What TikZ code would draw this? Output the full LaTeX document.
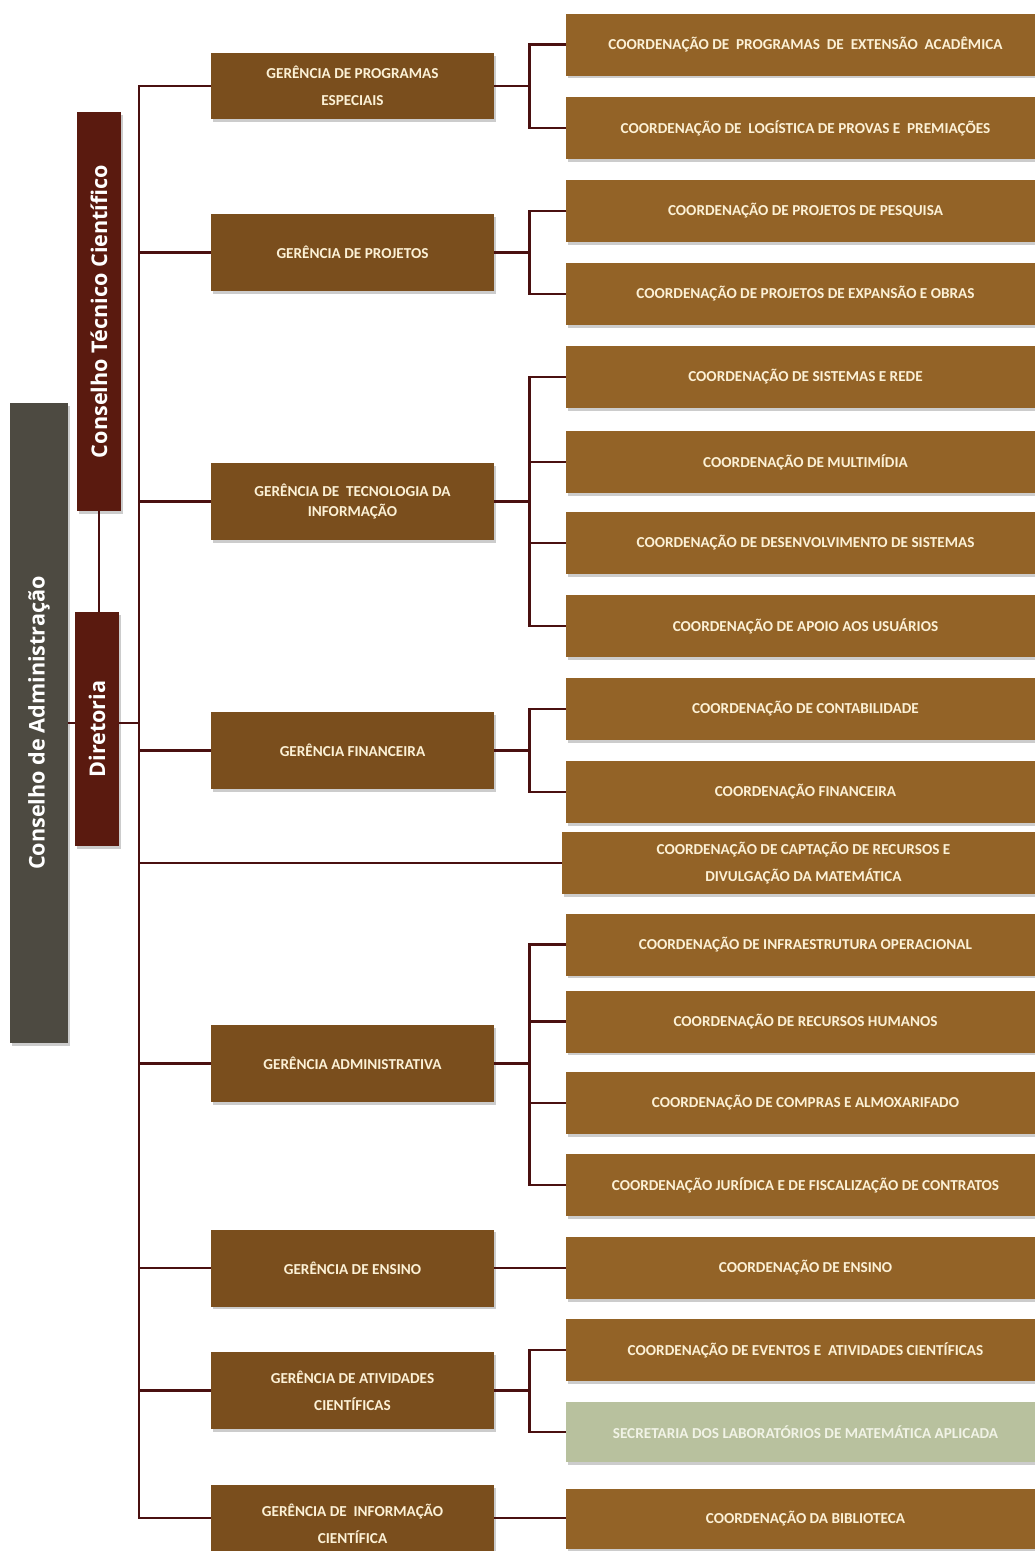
\documentclass[tikz,border=0pt]{standalone}
\usepackage{fontspec}
\setmainfont{Carlito}
\newfontfamily\sidefont{Open Sans}
\usepackage{xcolor}
\usepackage{tikz}
\usetikzlibrary{positioning}
\usetikzlibrary{shadows}

\definecolor{gerbrown}{HTML}{7A4E1D}
\definecolor{coordbrown}{HTML}{936327}
\definecolor{cream}{HTML}{FCF1D6}
\definecolor{sage}{HTML}{B8C19E}
\definecolor{sagetext}{HTML}{F1F3E6}
\definecolor{slate}{HTML}{4D4A41}
\definecolor{wine}{HTML}{5A1A0F}
\definecolor{linecol}{HTML}{4A1010}

\begin{document}
\begin{tikzpicture}[x=1pt,y=-1pt,
    box/.style={rectangle,inner sep=0pt,align=center,text=cream,
        font=\bfseries\fontsize{15.2}{27}\selectfont,
        drop shadow={shadow xshift=1.5pt,shadow yshift=-2.5pt,opacity=0.4}},
    ger/.style={box,fill=gerbrown,minimum width=283pt,minimum height=77pt},
    coord/.style={box,fill=coordbrown,minimum width=479pt,minimum height=62pt},
    side/.style={rectangle,rotate=90,inner sep=0pt,text=white,
        font=\sidefont\bfseries\fontsize{21.6}{24}\selectfont,
        drop shadow={shadow xshift=1.5pt,shadow yshift=-2.5pt,opacity=0.4}},
    conn/.style={draw=linecol,line width=2.8pt}]

\useasboundingbox[fill=white] (0,0) rectangle (1035,1551);

% conselhos e diretoria
\node[side,fill=slate,minimum width=640pt,minimum height=58pt] (cadm) at (39,723) {Conselho de Administração};
\node[side,fill=wine,minimum width=399pt,minimum height=44pt] (ctc) at (99,311.5) {Conselho Técnico Científico};
\node[side,fill=wine,minimum width=234pt,minimum height=44pt] (dir) at (97,729) {Diretoria};

% gerencias
\node[ger,minimum height=66pt] (g1) at (352.5,86) {GERÊNCIA DE PROGRAMAS\\ESPECIAIS};
\node[ger] (g2) at (352.5,252.5) {GERÊNCIA DE PROJETOS};
\node[ger,font=\bfseries\fontsize{15.2}{20}\selectfont] (g3) at (352.5,501.5) {GERÊNCIA DE \ TECNOLOGIA DA\\INFORMAÇÃO};
\node[ger] (g4) at (352.5,750.5) {GERÊNCIA FINANCEIRA};
\node[ger] (g5) at (352.5,1063.5) {GERÊNCIA ADMINISTRATIVA};
\node[ger] (g6) at (352.5,1268) {GERÊNCIA DE ENSINO};
\node[ger] (g7) at (352.5,1390.5) {GERÊNCIA DE ATIVIDADES\\CIENTÍFICAS};
\node[ger] (g8) at (352.5,1523.5) {GERÊNCIA DE \ INFORMAÇÃO\\CIENTÍFICA};

% coordenacoes
\node[coord] (c1) at (805.5,44.5) {COORDENAÇÃO DE \ PROGRAMAS \ DE \ EXTENSÃO \ ACADÊMICA};
\node[coord] (c2) at (805.5,128) {COORDENAÇÃO DE \ LOGÍSTICA DE PROVAS E \ PREMIAÇÕES};
\node[coord] (c3) at (805.5,211) {COORDENAÇÃO DE PROJETOS DE PESQUISA};
\node[coord] (c4) at (805.5,294) {COORDENAÇÃO DE PROJETOS DE EXPANSÃO E OBRAS};
\node[coord] (c5) at (805.5,377) {COORDENAÇÃO DE SISTEMAS E REDE};
\node[coord] (c6) at (805.5,462) {COORDENAÇÃO DE MULTIMÍDIA};
\node[coord] (c7) at (805.5,543) {COORDENAÇÃO DE DESENVOLVIMENTO DE SISTEMAS};
\node[coord] (c8) at (805.5,626) {COORDENAÇÃO DE APOIO AOS USUÁRIOS};
\node[coord] (c9) at (805.5,709) {COORDENAÇÃO DE CONTABILIDADE};
\node[coord] (c10) at (805.5,792) {COORDENAÇÃO FINANCEIRA};
\node[coord,minimum width=483pt] (c11) at (803.5,863) {COORDENAÇÃO DE CAPTAÇÃO DE RECURSOS E\\DIVULGAÇÃO DA MATEMÁTICA};
\node[coord] (c12) at (805.5,944.5) {COORDENAÇÃO DE INFRAESTRUTURA OPERACIONAL};
\node[coord] (c13) at (805.5,1021.5) {COORDENAÇÃO DE RECURSOS HUMANOS};
\node[coord] (c14) at (805.5,1103) {COORDENAÇÃO DE COMPRAS E ALMOXARIFADO};
\node[coord] (c15) at (805.5,1185) {COORDENAÇÃO JURÍDICA E DE FISCALIZAÇÃO DE CONTRATOS};
\node[coord] (c16) at (805.5,1268) {COORDENAÇÃO DE ENSINO};
\node[coord] (c17) at (805.5,1350) {COORDENAÇÃO DE EVENTOS E \ ATIVIDADES CIENTÍFICAS};
\node[coord,fill=sage,text=sagetext,minimum height=60pt] (c18) at (805.5,1432) {SECRETARIA DOS LABORATÓRIOS DE MATEMÁTICA APLICADA};
\node[coord,minimum height=60pt] (c19) at (805.5,1519) {COORDENAÇÃO DA BIBLIOTECA};

% tronco principal
\coordinate (top) at (139,86);
\coordinate (bot) at (139,1518);
\draw[conn] (g1.west) -- (top) -- (bot) -- (g8.west |- bot);
\draw[conn] (g2.west) -- (g2.west -| top);
\draw[conn] (g3.west) -- (g3.west -| top);
\draw[conn] (g4.west) -- (g4.west -| top);
\draw[conn] (g5.west) -- (g5.west -| top);
\draw[conn] (g6.west) -- (g6.west -| top);
\draw[conn] (g7.west) -- (g7.west -| top);
\draw[conn] (c11.west) -- (c11.west -| top);

% conselhos -- diretoria
\draw[conn] (ctc.west) -- (ctc.west |- dir.east);
\draw[conn] (cadm.south) -- (cadm.south -| dir.north);
\draw[conn] (cadm.south -| dir.south) -- (cadm.south -| top);

% gerencias -- coordenacoes
\draw[conn] (g1.east) -- ++(35,0) coordinate (b1) |- (c1.west);
\draw[conn] (b1) |- (c2.west);
\draw[conn] (g2.east) -- ++(35,0) coordinate (b2) |- (c3.west);
\draw[conn] (b2) |- (c4.west);
\draw[conn] (g3.east) -- ++(35,0) coordinate (b3) |- (c5.west);
\draw[conn] (b3) |- (c6.west);
\draw[conn] (b3) |- (c7.west);
\draw[conn] (b3) |- (c8.west);
\draw[conn] (g4.east) -- ++(35,0) coordinate (b4) |- (c9.west);
\draw[conn] (b4) |- (c10.west);
\draw[conn] (g5.east) -- ++(35,0) coordinate (b5) |- (c12.west);
\draw[conn] (b5) |- (c13.west);
\draw[conn] (b5) |- (c14.west);
\draw[conn] (b5) |- (c15.west);
\draw[conn] (g6.east) -- (c16.west);
\draw[conn] (g7.east) -- ++(35,0) coordinate (b7) |- (c17.west);
\draw[conn] (b7) |- (c18.west);
\draw[conn] (g8.east |- bot) -- (c19.west |- bot);
\end{tikzpicture}
\end{document}
